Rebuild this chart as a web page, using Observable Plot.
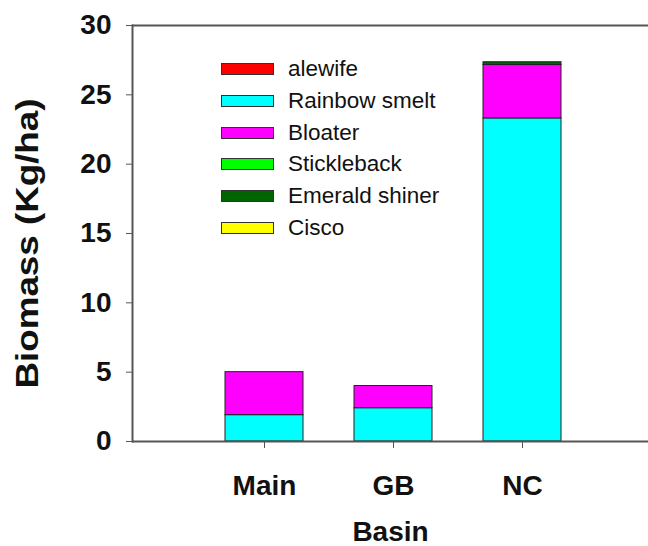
<!DOCTYPE html>
<html>
<head>
<meta charset="utf-8">
<script src="https://cdn.jsdelivr.net/npm/d3@7"></script>
<script src="https://cdn.jsdelivr.net/npm/@observablehq/plot@0.6"></script>
<style>
  html, body { margin: 0; padding: 0; background: #fff; }
  #chart { position: relative; width: 648px; height: 546px; overflow: hidden; }
  #chart svg { display: block; }
  .legend { position: absolute; left: 0; top: 0; font-family: "Liberation Sans", Arial, sans-serif; font-size: 22.5px; color: #111; }
  .legend .row { position: absolute; left: 221px; height: 30px; display: flex; align-items: center; white-space: nowrap; }
  .legend .sw { width: 51px; height: 10px; border: 1px solid #333; margin-right: 14px; }
</style>
</head>
<body>
<div id="chart"></div>
<script>
// Basins along the x axis
const basins = ["Main", "GB", "NC"];

// Prey fish species, in stacking order (bottom to top)
const species = ["alewife", "Rainbow smelt", "Bloater", "Stickleback", "Emerald shiner", "Cisco"];
const speciesColors = ["#ff0000", "#00ffff", "#ff00ff", "#00ff00", "#006400", "#ffff00"];

// Biomass (kg/ha) per basin, one array per species
const alewife       = [0,   0,   0];
const rainbowSmelt  = [1.9, 2.4, 23.3];
const bloater       = [3.1, 1.6, 3.85];
const stickleback   = [0,   0,   0];
const emeraldShiner = [0,   0,   0.2];
const cisco         = [0,   0,   0];

const yTicks = [0, 5, 10, 15, 20, 25, 30];
const yLabel = "Biomass (Kg/ha)";
const xLabel = "Basin";

const seriesValues = [alewife, rainbowSmelt, bloater, stickleback, emeraldShiner, cisco];
const rows = [];
species.forEach((s, i) => {
  basins.forEach((b, j) => {
    const v = seriesValues[i][j];
    if (v > 0) rows.push({basin: b, species: s, value: v});
  });
});

const bold = {fontSize: 28, fontWeight: "bold", fill: "#111"};

const chart = Plot.plot({
  width: 648,
  height: 546,
  marginLeft: 132,
  marginRight: 0,
  marginTop: 25,
  marginBottom: 105,
  style: {fontFamily: "Liberation Sans, Arial, sans-serif", background: "#fff", color: "#111"},
  x: {domain: basins, range: [199.5, 586.5], paddingInner: 0.395, paddingOuter: 0.1975, label: null},
  y: {domain: [0, 30], label: null},
  color: {domain: species, range: speciesColors},
  marks: [
    Plot.barY(rows, {x: "basin", y: "value", fill: "species", order: species, stroke: "#222", strokeWidth: 1}),
    Plot.ruleY([0, 30], {stroke: "#555", strokeWidth: 2}),
    Plot.frame({anchor: "left", stroke: "#555", strokeWidth: 2}),
    Plot.axisY({ticks: yTicks, tickSize: 6, tickPadding: 15, stroke: "#555", label: null, ...bold}),
    Plot.axisX({tickSize: 7, tickPadding: 27, stroke: "#555", label: null, ...bold}),
    Plot.text([xLabel], {frameAnchor: "bottom", dy: 91, lineAnchor: "middle", text: d => d, ...bold}),
    Plot.text([yLabel], {frameAnchor: "left", dx: -104, dy: 10, rotate: -90, textAnchor: "middle", lineAnchor: "middle", text: d => d, ...bold, fontSize: 31})
  ]
});

// The y title is set in a slightly stretched face
d3.select(chart).selectAll("text")
  .filter(function() { return this.textContent === yLabel; })
  .attr("textLength", 290)
  .attr("lengthAdjust", "spacingAndGlyphs");

const host = document.getElementById("chart");
host.appendChild(chart);

// Species legend inside the plot area
const legend = document.createElement("div");
legend.className = "legend";
const rowCenters = [69, 101, 133, 164, 196, 228];
species.forEach((s, i) => {
  const row = document.createElement("div");
  row.className = "row";
  row.style.top = (rowCenters[i] - 15) + "px";
  const sw = document.createElement("div");
  sw.className = "sw";
  sw.style.background = speciesColors[i];
  const label = document.createElement("span");
  label.textContent = s;
  row.appendChild(sw);
  row.appendChild(label);
  legend.appendChild(row);
});
host.appendChild(legend);
</script>
</body>
</html>
